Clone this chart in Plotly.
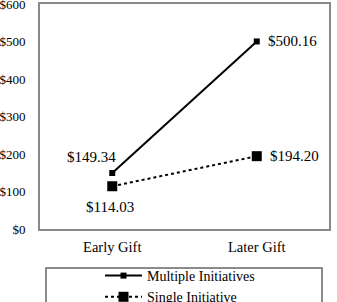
import plotly.graph_objects as go

categories = ["Early Gift", "Later Gift"]
multiple = [149.34, 500.16]
single = [114.03, 194.20]
series_names = ["Multiple Initiatives", "Single Initiative"]
y_ticks = [0, 100, 200, 300, 400, 500, 600]
y_tick_labels = ["$" + str(v) for v in y_ticks]

FONT = "Liberation Serif, Times New Roman, serif"

fig = go.Figure()
fig.add_trace(go.Scatter(
    x=categories, y=multiple, name=series_names[0], mode="lines+markers",
    line=dict(color="black", width=2), marker=dict(symbol="square", size=6, color="black"),
))
fig.add_trace(go.Scatter(
    x=categories, y=single, name=series_names[1], mode="lines+markers",
    line=dict(color="black", width=2, dash="dot"), marker=dict(symbol="square", size=10, color="black"),
))

def lab(v):
    return "${:.2f}".format(v)

anns = [
    dict(x=categories[0], y=multiple[0], text=lab(multiple[0]), xanchor="right", yanchor="middle", xshift=6, yshift=16),
    dict(x=categories[1], y=multiple[1], text=lab(multiple[1]), xanchor="left", yanchor="middle", xshift=9, yshift=0),
    dict(x=categories[0], y=single[0], text=lab(single[0]), xanchor="center", yanchor="middle", xshift=-2, yshift=-21),
    dict(x=categories[1], y=single[1], text=lab(single[1]), xanchor="left", yanchor="middle", xshift=11, yshift=0),
]
for a in anns:
    a.update(showarrow=False, font=dict(family=FONT, size=15, color="black"))
    fig.add_annotation(**a)

H = 335
PLOT_BOTTOM = 229
PLOT_H = 225

fig.add_shape(type="rect", xref="paper", yref="paper", x0=(46-40)/289, x1=(322-40)/289,
              y0=(PLOT_BOTTOM-268)/PLOT_H, y1=(PLOT_BOTTOM-333)/PLOT_H,
              line=dict(color="#666666", width=1.5), layer="above")

fig.update_layout(
    width=337, height=H,
    margin=dict(l=40, r=8, t=4, b=H-PLOT_BOTTOM, autoexpand=False),
    paper_bgcolor="white", plot_bgcolor="white",
    font=dict(family=FONT, size=14, color="black"),
    showlegend=True,
    legend=dict(x=(100-40)/289, y=(PLOT_BOTTOM-260)/PLOT_H, xanchor="left", yanchor="top",
                bgcolor="rgba(0,0,0,0)", borderwidth=0, tracegroupgap=0,
                font=dict(family=FONT, size=14), itemwidth=37),
    xaxis=dict(range=[-0.5, 1.5], showgrid=False, showline=True, mirror=True,
               linecolor="#898989", linewidth=2, ticks="", tickfont=dict(size=14.5),
               ticklabelstandoff=4),
    yaxis=dict(range=[0, 600], tickvals=y_ticks, ticktext=y_tick_labels, showgrid=False,
               showline=True, mirror=True, linecolor="#898989", linewidth=2, ticks="",
               zeroline=False, tickfont=dict(size=13), ticklabelstandoff=10,
               ticklabeloverflow="allow"),
)

fig.write_html(
    "out.html",
    post_script="document.documentElement.style.overflow='hidden';document.body.style.overflow='hidden';",
)
